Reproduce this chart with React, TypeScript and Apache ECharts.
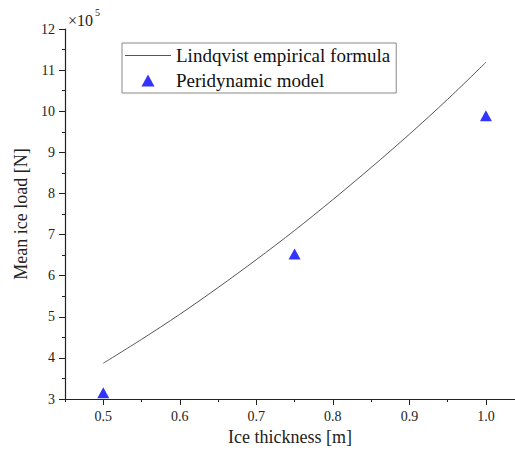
import React, { useEffect, useRef } from "react";
import * as echarts from "echarts";

// Values in units of 1e5 N
const thicknessLine = [0.5, 0.55, 0.6, 0.65, 0.7, 0.75, 0.8, 0.85, 0.9, 0.95, 1.0];
const lindqvistLoad = [3.87, 4.45, 5.06, 5.71, 6.39, 7.1, 7.85, 8.63, 9.44, 10.29, 11.19];
const thicknessPd = [0.5, 0.75, 1.0];
const peridynamicLoad = [3.15, 6.53, 9.89];
const xMajorTicks = [0.5, 0.6, 0.7, 0.8, 0.9, 1.0];

const FONT = "'Liberation Serif', 'Times New Roman', serif";

export default function App() {
  const ref = useRef<HTMLDivElement>(null);
  useEffect(() => {
    if (!ref.current) return;
    const chart = echarts.init(ref.current, undefined, { renderer: "svg" });
    const axisColor = "#222";
    chart.setOption({
      animation: false,
      backgroundColor: "#fff",
      grid: { left: 65, right: 0, top: 29, bottom: 59, containLabel: false },
      legend: {
        orient: "vertical",
        left: 122,
        top: 43,
        padding: [3, 6, 3, 3],
        itemGap: 6,
        itemWidth: 46,
        itemHeight: 12,
        symbolKeepAspect: true,
        borderColor: "#888",
        borderWidth: 1,
        textStyle: { fontFamily: FONT, fontSize: 19, color: "#111" },
        data: [
          { name: "Lindqvist empirical formula", icon: "path://M0,0L46,0L46,1L0,1Z" },
          { name: "Peridynamic model", icon: "path://M6,0L12,11L0,11Z" },
        ],
      },
      xAxis: [
        {
          type: "value",
          min: 0.45,
          max: 1.038,
          interval: 0.05,
          position: "bottom",
          axisLine: { show: true, lineStyle: { color: axisColor, width: 1.2 } },
          axisTick: { show: true, inside: false, length: 3, lineStyle: { color: axisColor, width: 1 } },
          axisLabel: { show: false },
          splitLine: { show: false },
        },
        {
          type: "value",
          min: 0.45,
          max: 1.038,
          position: "bottom",
          axisLine: { show: false },
          axisTick: { show: true, length: 6, customValues: xMajorTicks, lineStyle: { color: axisColor, width: 1 } },
          axisLabel: {
            show: true,
            customValues: xMajorTicks,
            formatter: (v: number) => v.toFixed(1),
            fontFamily: FONT,
            fontSize: 14,
            color: "#222",
            margin: 10,
          },
          splitLine: { show: false },
          name: "Ice thickness [m]",
          nameLocation: "middle",
          nameGap: 19,
          nameTextStyle: { fontFamily: FONT, fontSize: 18, color: "#222", verticalAlign: "top" },
        },
      ],
      yAxis: {
        type: "value",
        min: 3,
        max: 12,
        interval: 1,
        axisLine: { show: true, lineStyle: { color: axisColor, width: 1.2 } },
        axisTick: { show: true, length: 6, lineStyle: { color: axisColor, width: 1 } },
        minorTick: { show: true, splitNumber: 2, length: 3, lineStyle: { color: axisColor, width: 1 } },
        axisLabel: { fontFamily: FONT, fontSize: 14, color: "#222", margin: 10 },
        splitLine: { show: false },
        minorSplitLine: { show: false },
        name: "Mean ice load [N]",
        nameLocation: "middle",
        nameGap: 33,
        nameTextStyle: { fontFamily: FONT, fontSize: 18, color: "#222" },
      },
      graphic: [
        {
          type: "text",
          left: 68,
          top: 12,
          style: { text: "×10", fontFamily: FONT, fontSize: 16, fill: "#222" },
        },
        {
          type: "text",
          left: 95,
          top: 7,
          style: { text: "5", fontFamily: FONT, fontSize: 10, fill: "#222" },
        },
      ],
      series: [
        {
          name: "Lindqvist empirical formula",
          type: "line",
          xAxisIndex: 0,
          data: thicknessLine.map((x, i) => [x, lindqvistLoad[i]]),
          showSymbol: false,
          symbol: "none",
          smooth: 0.3,
          lineStyle: { color: "#555", width: 1 },
          itemStyle: { color: "#555" },
        },
        {
          name: "Peridynamic model",
          type: "scatter",
          xAxisIndex: 0,
          data: thicknessPd.map((x, i) => [x, peridynamicLoad[i]]),
          symbol: "triangle",
          symbolSize: [12, 11],
          itemStyle: { color: "#0000ff" },
        },
      ],
    });
    return () => chart.dispose();
  }, []);
  return (
    <div
      ref={ref}
      style={{ position: "absolute", left: 0, top: 0, width: 515, height: 458 }}
    />
  );
}
